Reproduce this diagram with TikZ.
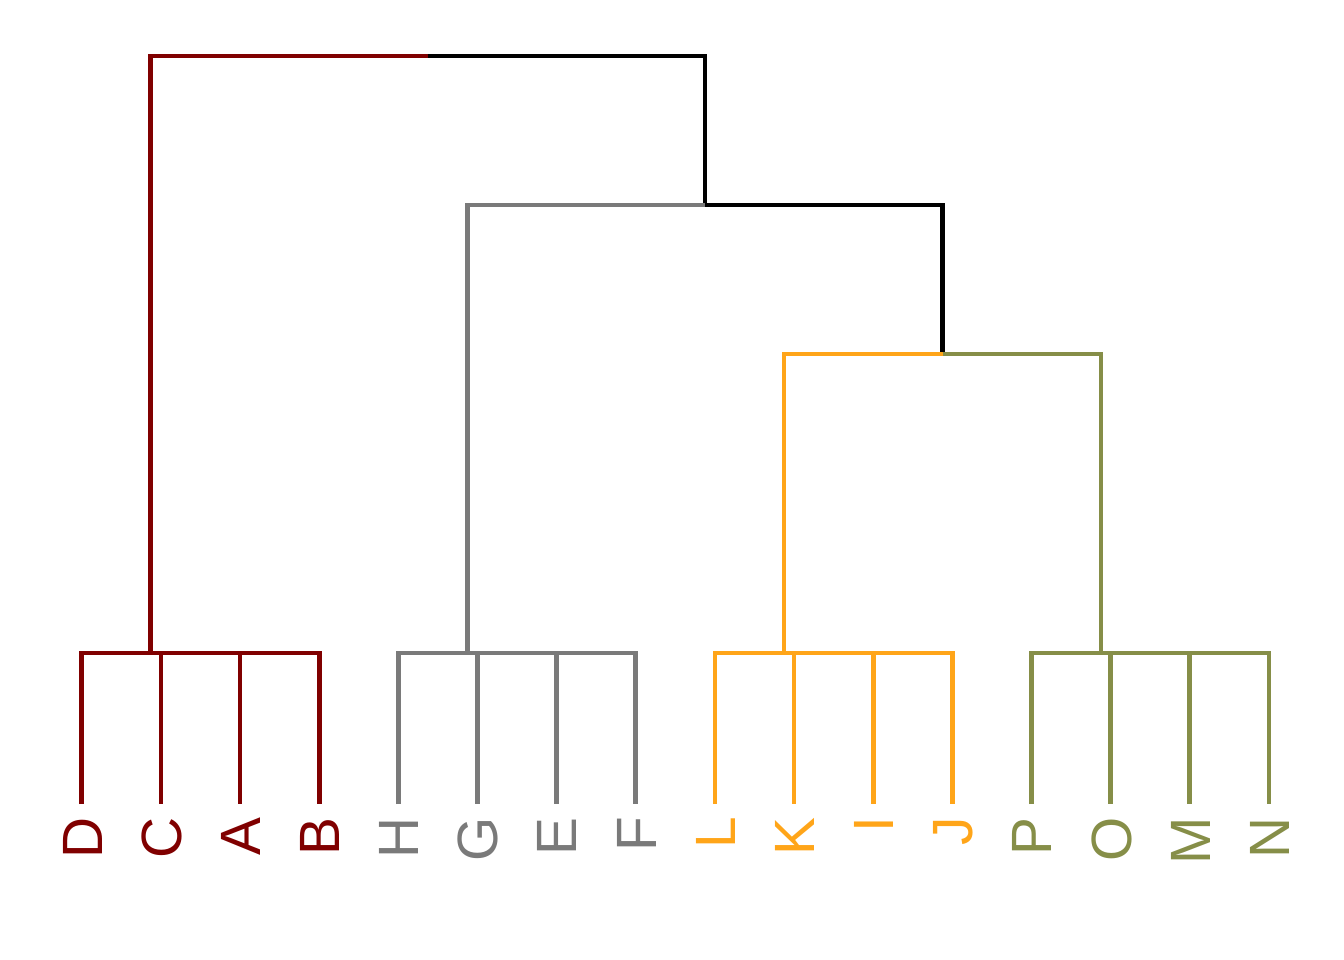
\documentclass[tikz,border=0pt]{standalone}
\usepackage{fontspec}
\setmainfont{Liberation Sans}
\definecolor{darkred}{RGB}{128,0,0}
\definecolor{midgray}{RGB}{122,122,122}
\definecolor{amber}{RGB}{255,165,25}
\definecolor{moss}{RGB}{134,142,72}
\tikzset{
  branch/.style={line width=4.7pt, line join=miter},
  leaf/.style={rotate=90, anchor=east, inner sep=0pt, text height=40.7pt,
    text depth=0pt, font=\fontsize{56.8}{60}\selectfont}
}
\begin{document}
\begin{tikzpicture}[x=1pt,y=-1pt]
  \useasboundingbox (0,0) rectangle (1344,960);
  % leaves
  \foreach \lab/\col [count=\i from 0] in {D/darkred,C/darkred,A/darkred,B/darkred,
      H/midgray,G/midgray,E/midgray,F/midgray,L/amber,K/amber,I/amber,J/amber,
      P/moss,O/moss,M/moss,N/moss}{
    \coordinate (t\lab) at (81.7+79.15*\i,804);
    \coordinate (b\lab) at (81.7+79.15*\i,653);
    \node (\lab) [leaf, text=\col] at (81.7+79.15*\i,817) {\lab};
    \draw[branch,\col] (b\lab) -- (t\lab);
  }
  % merge points
  \coordinate (r) at (150.4,653);
  \coordinate (g) at (467.3,653);
  \coordinate (o) at (784,653);
  \coordinate (v) at (1101,653);
  \coordinate (ov) at (942.5,354);
  \coordinate (gov) at (705,205);
  \coordinate (top) at (427.7,56);
  % bars
  \draw[branch,darkred] (tD) -- (bD) -- (bB) -- (tB);
  \draw[branch,midgray] (tH) -- (bH) -- (bF) -- (tF);
  \draw[branch,amber] (tL) -- (bL) -- (bJ) -- (tJ);
  \draw[branch,moss] (tP) -- (bP) -- (bN) -- (tN);
  % upper links
  \draw[branch,darkred] (r) |- (top);
  \draw[branch] (top) -| (gov) -| (ov);
  \draw[branch,midgray] (g) |- (gov);
  \draw[branch,amber] (o) |- (ov);
  \draw[branch,moss] (ov) -| (v);
\end{tikzpicture}
\end{document}
